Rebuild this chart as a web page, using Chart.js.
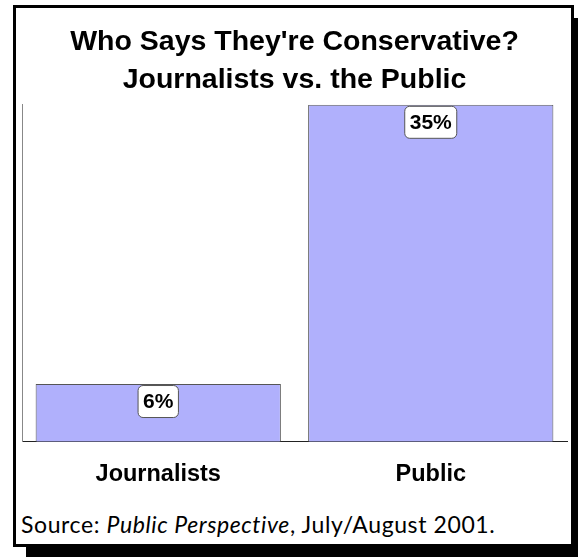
<!DOCTYPE html>
<html>
<head>
<meta charset="utf-8">
<script src="https://cdn.jsdelivr.net/npm/chart.js@4"></script>
<style>
  body { margin: 0; background: #fff; width: 578px; height: 557px; position: relative; overflow: hidden; }
  #frame {
    position: absolute; left: 13px; top: 5px; width: 561px; height: 542px;
    box-sizing: border-box; border: 3px solid #000; background: #fff;
    box-shadow: 13px 13px 0 #000;
  }
  #chart-box { position: absolute; left: 0; top: 0; width: 555px; height: 492px; }
  #source {
    position: absolute; left: 5px; top: 502px;
    font-family: Lato, "Open Sans", sans-serif; font-size: 23px; letter-spacing: 0.6px;
    color: #000; white-space: nowrap;
  }
</style>
</head>
<body>
<div id="frame">
  <div id="chart-box"><canvas id="chart"></canvas></div>
  <div id="source">Source: <i>Public Perspective</i>, July/August 2001.</div>
</div>
<script>
const categories = ["Journalists", "Public"];
const conservativeShare = [6, 35];
const titleLines = ["Who Says They're Conservative?", "Journalists vs. the Public"];

const sansBold = "Arial, 'Liberation Sans', sans-serif";

// white rounded tag with the value, sitting just under the top of each bar
const valueTags = {
  id: "valueTags",
  afterDatasetsDraw(chart) {
    const ctx = chart.ctx;
    const meta = chart.getDatasetMeta(0);
    ctx.save();
    ctx.font = "bold 21px " + sansBold;
    ctx.textAlign = "center";
    ctx.textBaseline = "middle";
    meta.data.forEach((bar, i) => {
      const text = conservativeShare[i] + "%";
      const w = ctx.measureText(text).width + 10;
      const h = 32;
      const x = bar.x - w / 2;
      const y = bar.y + 1.5;
      ctx.beginPath();
      ctx.roundRect(x, y, w, h, 5);
      ctx.fillStyle = "#fff";
      ctx.fill();
      ctx.lineWidth = 1;
      ctx.strokeStyle = "#555";
      ctx.stroke();
      ctx.fillStyle = "#000";
      ctx.fillText(text, bar.x, y + h / 2 + 1);
    });
    ctx.restore();
  }
};

new Chart(document.getElementById("chart"), {
  type: "bar",
  data: {
    labels: categories,
    datasets: [{
      data: conservativeShare,
      backgroundColor: "#b0b0fc",
      borderColor: "#555",
      borderWidth: 1,
      barPercentage: 0.9,
      categoryPercentage: 1.0
    }]
  },
  options: {
    responsive: true,
    maintainAspectRatio: false,
    animation: false,
    layout: { padding: { left: 6, right: 4, top: 0, bottom: 0 } },
    plugins: {
      legend: { display: false },
      tooltip: { enabled: false },
      title: {
        display: true,
        text: titleLines,
        color: "#000",
        font: { family: sansBold, size: 28.5, weight: "bold", lineHeight: 1.33 },
        padding: { top: 15, bottom: 6 }
      }
    },
    scales: {
      x: {
        grid: { display: false },
        border: { display: true, color: "#222", width: 1 },
        ticks: {
          color: "#000",
          padding: 11,
          font: { family: sansBold, size: 23.5, weight: "bold" }
        }
      },
      y: {
        min: 0,
        max: 35,
        grid: { display: false },
        border: { display: true, color: "#888", width: 1 },
        ticks: { display: false },
        afterFit(scale) { scale.width = 0; }
      }
    }
  },
  plugins: [valueTags]
});
</script>
</body>
</html>
